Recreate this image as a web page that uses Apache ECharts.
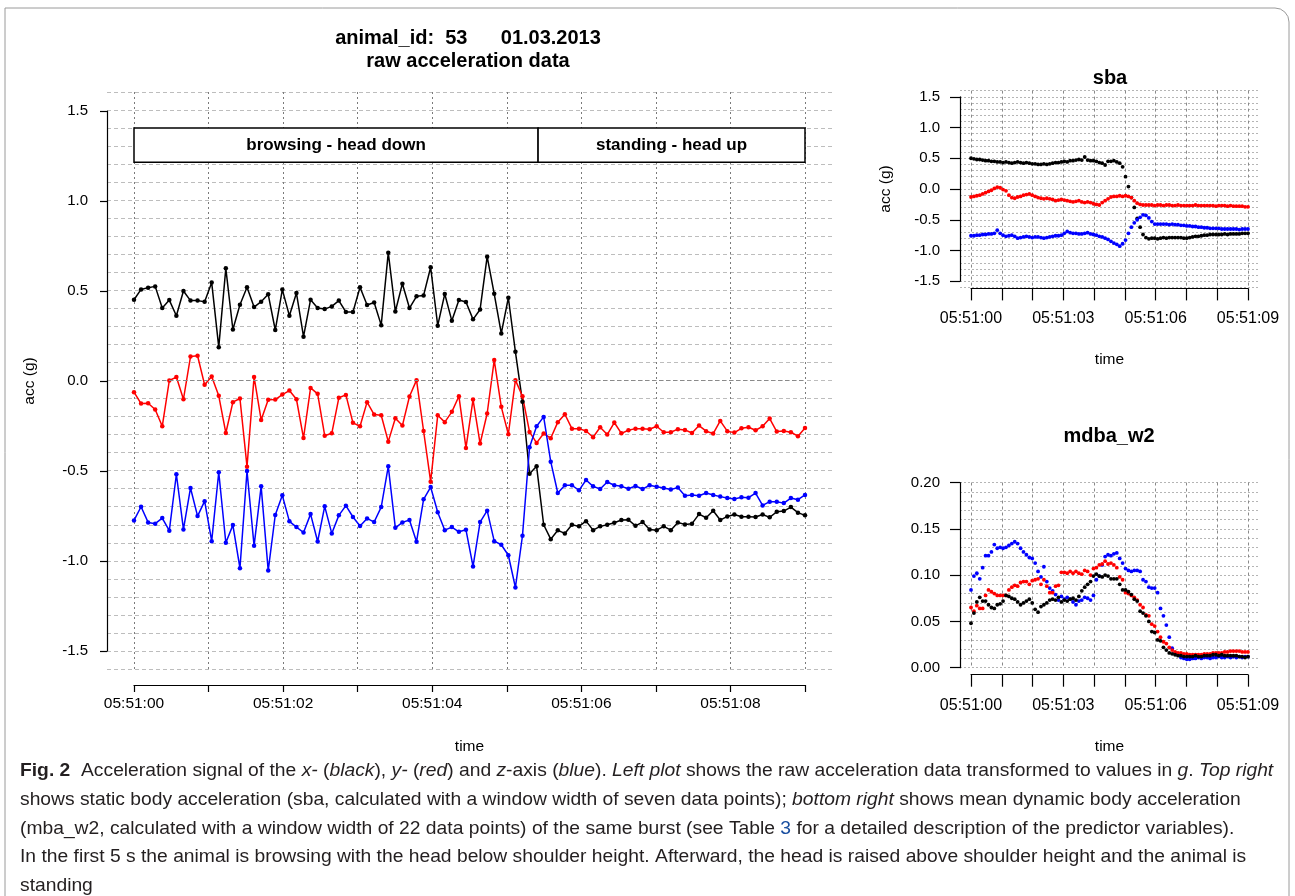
<!DOCTYPE html>
<html>
<head>
<meta charset="utf-8">
<script src="https://cdn.jsdelivr.net/npm/echarts@6/dist/echarts.min.js"></script>
<style>
html,body{margin:0;padding:0;background:#fff}
#main{width:1295px;height:896px}
</style>
</head>
<body>
<div id="main"></div>
<script>
// raw acceleration (g), one value per sample, 96 samples over 9 s
var rawX = [0.448,0.505,0.515,0.522,0.402,0.446,0.359,0.496,0.443,0.443,
  0.437,0.543,0.185,0.622,0.283,0.420,0.517,0.407,0.437,0.478,
  0.280,0.504,0.359,0.485,0.243,0.448,0.402,0.396,0.411,0.443,
  0.380,0.380,0.517,0.419,0.433,0.307,0.709,0.383,0.537,0.402,
  0.467,0.472,0.628,0.304,0.480,0.331,0.446,0.435,0.339,0.394,
  0.687,0.481,0.261,0.459,0.159,-0.118,-0.517,-0.476,-0.800,-0.880,
  -0.831,-0.848,-0.800,-0.809,-0.780,-0.830,-0.809,-0.800,-0.789,-0.774,
  -0.772,-0.806,-0.785,-0.826,-0.830,-0.809,-0.830,-0.787,-0.798,-0.794,
  -0.741,-0.761,-0.722,-0.774,-0.754,-0.743,-0.756,-0.756,-0.757,-0.743,
  -0.759,-0.728,-0.724,-0.702,-0.733,-0.748];
var rawY = [-0.065,-0.128,-0.126,-0.161,-0.254,0.000,0.019,-0.104,0.133,0.137,
  -0.024,0.022,-0.085,-0.291,-0.120,-0.100,-0.478,0.020,-0.219,-0.107,
  -0.106,-0.078,-0.056,-0.104,-0.319,-0.041,-0.074,-0.306,-0.293,-0.096,
  -0.080,-0.235,-0.254,-0.120,-0.189,-0.193,-0.339,-0.209,-0.250,-0.089,
  0.002,-0.280,-0.561,-0.193,-0.231,-0.174,-0.087,-0.374,-0.106,-0.350,
  -0.183,0.113,-0.146,-0.298,0.002,-0.087,-0.285,-0.346,-0.294,-0.320,
  -0.231,-0.187,-0.267,-0.267,-0.280,-0.315,-0.259,-0.300,-0.233,-0.293,
  -0.276,-0.267,-0.267,-0.270,-0.254,-0.287,-0.287,-0.270,-0.274,-0.291,
  -0.250,-0.281,-0.294,-0.224,-0.281,-0.289,-0.265,-0.259,-0.276,-0.254,
  -0.211,-0.283,-0.280,-0.287,-0.309,-0.263];
var rawZ = [-0.776,-0.700,-0.787,-0.794,-0.763,-0.833,-0.520,-0.826,-0.596,-0.752,
  -0.669,-0.891,-0.509,-0.900,-0.802,-1.041,-0.502,-0.917,-0.587,-1.054,
  -0.746,-0.637,-0.781,-0.813,-0.843,-0.741,-0.893,-0.698,-0.848,-0.748,
  -0.694,-0.757,-0.807,-0.765,-0.785,-0.702,-0.476,-0.817,-0.787,-0.774,
  -0.894,-0.659,-0.591,-0.731,-0.830,-0.813,-0.839,-0.828,-1.031,-0.785,
  -0.722,-0.891,-0.911,-0.969,-1.148,-0.861,-0.370,-0.254,-0.202,-0.450,
  -0.624,-0.581,-0.581,-0.609,-0.552,-0.587,-0.602,-0.563,-0.581,-0.587,
  -0.600,-0.585,-0.602,-0.581,-0.589,-0.596,-0.604,-0.594,-0.639,-0.635,
  -0.639,-0.624,-0.635,-0.644,-0.652,-0.657,-0.648,-0.650,-0.624,-0.693,
  -0.672,-0.672,-0.680,-0.652,-0.661,-0.635];

// static body acceleration
var sbaX = [0.50,0.49,0.48,0.48,0.47,0.46,0.46,0.45,0.45,0.44,
  0.44,0.43,0.44,0.43,0.42,0.43,0.44,0.43,0.42,0.43,
  0.42,0.41,0.41,0.40,0.40,0.41,0.40,0.41,0.42,0.43,
  0.43,0.44,0.45,0.44,0.46,0.46,0.47,0.48,0.47,0.52,
  0.47,0.46,0.46,0.45,0.43,0.42,0.39,0.45,0.45,0.46,
  0.44,0.42,0.36,0.20,0.04,-0.14,-0.30,-0.48,-0.62,-0.74,
  -0.79,-0.81,-0.80,-0.80,-0.81,-0.80,-0.79,-0.80,-0.79,-0.79,
  -0.79,-0.79,-0.79,-0.80,-0.80,-0.79,-0.78,-0.77,-0.77,-0.76,
  -0.75,-0.75,-0.74,-0.74,-0.74,-0.74,-0.74,-0.73,-0.74,-0.73,
  -0.73,-0.73,-0.73,-0.72,-0.72,-0.72];
var sbaY = [-0.13,-0.12,-0.11,-0.10,-0.08,-0.06,-0.04,-0.02,0.01,0.03,
  0.02,-0.01,-0.03,-0.10,-0.14,-0.15,-0.13,-0.12,-0.10,-0.09,
  -0.08,-0.10,-0.12,-0.14,-0.15,-0.16,-0.15,-0.16,-0.17,-0.19,
  -0.18,-0.17,-0.18,-0.19,-0.20,-0.21,-0.20,-0.19,-0.21,-0.22,
  -0.21,-0.22,-0.24,-0.25,-0.26,-0.22,-0.19,-0.16,-0.13,-0.12,
  -0.12,-0.11,-0.12,-0.11,-0.12,-0.14,-0.19,-0.23,-0.25,-0.26,
  -0.26,-0.26,-0.26,-0.27,-0.26,-0.26,-0.27,-0.26,-0.26,-0.27,
  -0.27,-0.26,-0.27,-0.27,-0.27,-0.27,-0.27,-0.26,-0.27,-0.27,
  -0.27,-0.27,-0.27,-0.27,-0.28,-0.27,-0.27,-0.27,-0.28,-0.27,
  -0.28,-0.28,-0.28,-0.28,-0.29,-0.29];
var sbaZ = [-0.76,-0.76,-0.75,-0.75,-0.74,-0.74,-0.73,-0.73,-0.72,-0.67,
  -0.72,-0.75,-0.77,-0.76,-0.75,-0.77,-0.80,-0.79,-0.78,-0.77,
  -0.78,-0.79,-0.78,-0.78,-0.79,-0.80,-0.79,-0.78,-0.77,-0.76,
  -0.76,-0.75,-0.72,-0.69,-0.71,-0.72,-0.72,-0.73,-0.73,-0.72,
  -0.71,-0.73,-0.74,-0.75,-0.77,-0.78,-0.80,-0.82,-0.85,-0.88,
  -0.90,-0.93,-0.89,-0.83,-0.72,-0.62,-0.55,-0.50,-0.46,-0.42,
  -0.43,-0.47,-0.53,-0.57,-0.57,-0.57,-0.57,-0.57,-0.58,-0.57,
  -0.58,-0.58,-0.59,-0.59,-0.60,-0.60,-0.61,-0.61,-0.62,-0.62,
  -0.63,-0.63,-0.64,-0.64,-0.64,-0.64,-0.65,-0.65,-0.65,-0.65,
  -0.65,-0.65,-0.66,-0.65,-0.65,-0.65];

// mean dynamic body acceleration, window 22
var mdbaX = [0.048,0.059,0.071,0.076,0.072,0.072,0.068,0.065,0.064,0.068,
  0.069,0.072,0.078,0.077,0.075,0.074,0.071,0.068,0.070,0.072,
  0.074,0.070,0.063,0.060,0.066,0.068,0.070,0.073,0.074,0.073,
  0.076,0.071,0.073,0.072,0.074,0.075,0.073,0.077,0.083,0.087,
  0.090,0.093,0.099,0.101,0.099,0.098,0.100,0.099,0.096,0.096,
  0.096,0.090,0.084,0.084,0.082,0.079,0.074,0.072,0.061,0.059,
  0.056,0.050,0.039,0.038,0.030,0.029,0.022,0.019,0.016,0.015,
  0.014,0.013,0.013,0.012,0.012,0.012,0.012,0.013,0.012,0.012,
  0.013,0.013,0.013,0.014,0.014,0.013,0.014,0.013,0.013,0.013,
  0.013,0.013,0.012,0.012,0.011,0.012];
var mdbaY = [0.065,0.061,0.067,0.064,0.064,0.078,0.084,0.082,0.080,0.078,
  0.078,0.078,0.078,0.084,0.087,0.089,0.088,0.092,0.093,0.093,
  0.090,0.094,0.095,0.096,0.090,0.095,0.088,0.081,0.081,0.088,
  0.089,0.103,0.103,0.102,0.104,0.102,0.104,0.102,0.101,0.105,
  0.104,0.100,0.107,0.108,0.111,0.112,0.115,0.112,0.113,0.111,
  0.108,0.098,0.095,0.081,0.080,0.078,0.076,0.073,0.068,0.065,
  0.057,0.056,0.047,0.045,0.039,0.033,0.028,0.026,0.022,0.019,
  0.017,0.016,0.016,0.015,0.015,0.014,0.014,0.014,0.014,0.014,
  0.015,0.015,0.015,0.016,0.016,0.016,0.016,0.017,0.017,0.018,
  0.018,0.018,0.018,0.017,0.017,0.017];
var mdbaZ = [0.084,0.099,0.102,0.096,0.108,0.121,0.121,0.125,0.133,0.129,
  0.130,0.129,0.130,0.132,0.134,0.136,0.134,0.129,0.125,0.122,
  0.119,0.118,0.113,0.104,0.098,0.109,0.093,0.086,0.083,0.079,
  0.073,0.077,0.074,0.076,0.074,0.071,0.068,0.072,0.073,0.076,
  0.075,0.073,0.078,0.095,0.099,0.111,0.120,0.122,0.121,0.123,
  0.124,0.118,0.113,0.107,0.105,0.104,0.105,0.105,0.104,0.095,
  0.093,0.087,0.086,0.086,0.081,0.064,0.056,0.046,0.033,0.021,
  0.016,0.014,0.011,0.010,0.009,0.009,0.010,0.010,0.011,0.010,
  0.011,0.011,0.010,0.011,0.011,0.012,0.011,0.011,0.012,0.011,
  0.012,0.011,0.012,0.011,0.012,0.012];

// behaviour phases (seconds) shown in the box above the raw data
var phaseNames = ['browsing - head down', 'standing - head up'];
var phaseStart = [0, 5.42];
var phaseEnd = [5.42, 9];
var boxLow = 1.21, boxHigh = 1.40;

var burstSeconds = 9;
var timePrefix = '05:51:0';

var t = [];
for (var i = 0; i < rawX.length; i++) {
  t.push(i * burstSeconds / (rawX.length - 1));
}
function pairs(vals) {
  var out = [];
  for (var k = 0; k < vals.length; k++) out.push([t[k], vals[k]]);
  return out;
}

var FONT = 'Liberation Sans';
var fineH = { show: true, lineStyle: { color: '#bdbdbd', type: [4, 3], width: 1 } };
var dotV = { show: true, lineStyle: { color: '#7a7a7a', type: [2, 3], width: 1 } };
var fineHr = { show: true, lineStyle: { color: '#b5b5b5', type: [2, 2], width: 1 } };
var dotVr = { show: true, lineStyle: { color: '#8a8a8a', type: [3, 3], width: 1 } };
var axisBlack = { show: true, onZero: false, lineStyle: { color: '#000', width: 1.2 } };

function hiddenX(gi) { return { type: 'value', gridIndex: gi, min: 0, max: 1, show: false }; }

var chart = echarts.init(document.getElementById('main'), null, { renderer: 'canvas' });

var option = {
  animation: false,
  backgroundColor: '#fff',
  textStyle: { fontFamily: FONT },
  grid: [
    { left: 107, top: 92, width: 725, height: 577 },      // 0 left fine lines
    { left: 134, top: 92, width: 671, height: 577 },      // 1 left data
    { left: 107, top: 111, width: 725, height: 540 },     // 2 left y axis
    { left: 960, top: 90.6, width: 299, height: 196.8 },  // 3 sba fine lines
    { left: 971, top: 90.6, width: 277, height: 196.8 },  // 4 sba data
    { left: 960, top: 96.75, width: 299, height: 184.5 }, // 5 sba y axis
    { left: 960, top: 482.5, width: 299, height: 185.2 }, // 6 mdba lines + y axis
    { left: 971, top: 482.5, width: 277, height: 185.2 }  // 7 mdba data
  ],
  xAxis: [
    hiddenX(0),
    {
      type: 'value', gridIndex: 1, min: 0, max: burstSeconds, interval: 1,
      offset: 16,
      axisLine: axisBlack,
      axisTick: { show: true, length: 7, lineStyle: { color: '#000', width: 1.2 } },
      axisLabel: { margin: 11, fontSize: 15.5, color: '#000', fontFamily: FONT,
        formatter: function (v) { return v % 2 === 0 ? timePrefix + v : ''; } },
      splitLine: dotV,
      name: 'time', nameLocation: 'middle', nameGap: 54,
      nameTextStyle: { fontSize: 15.5, color: '#000', fontFamily: FONT }
    },
    hiddenX(2),
    hiddenX(3),
    {
      type: 'value', gridIndex: 4, min: 0, max: burstSeconds, interval: 1,
      offset: 1,
      axisLine: axisBlack,
      axisTick: { show: true, length: 12, lineStyle: { color: '#000', width: 1.2 } },
      axisLabel: { margin: 22, fontSize: 16, color: '#000', fontFamily: FONT,
        formatter: function (v) { return v % 3 === 0 ? timePrefix + v : ''; } },
      splitLine: dotVr,
      name: 'time', nameLocation: 'middle', nameGap: 63,
      nameTextStyle: { fontSize: 15.5, color: '#000', fontFamily: FONT }
    },
    hiddenX(5),
    hiddenX(6),
    {
      type: 'value', gridIndex: 7, min: 0, max: burstSeconds, interval: 1,
      offset: 7,
      axisLine: axisBlack,
      axisTick: { show: true, length: 12, lineStyle: { color: '#000', width: 1.2 } },
      axisLabel: { margin: 23, fontSize: 16, color: '#000', fontFamily: FONT,
        formatter: function (v) { return v % 3 === 0 ? timePrefix + v : ''; } },
      splitLine: dotVr,
      name: 'time', nameLocation: 'middle', nameGap: 64,
      nameTextStyle: { fontSize: 15.5, color: '#000', fontFamily: FONT }
    }
  ],
  yAxis: [
    { type: 'value', gridIndex: 0, min: -1.6, max: 1.6, interval: 0.1,
      axisLine: { show: false }, axisTick: { show: false }, axisLabel: { show: false },
      splitLine: fineH },
    { type: 'value', gridIndex: 1, min: -1.6, max: 1.6, show: false },
    { type: 'value', gridIndex: 2, min: -1.5, max: 1.5, interval: 0.5,
      axisLine: axisBlack,
      axisTick: { show: true, length: 7, lineStyle: { color: '#000', width: 1.2 } },
      axisLabel: { margin: 19, fontSize: 15, color: '#000', fontFamily: FONT,
        formatter: function (v) { return v.toFixed(1); } },
      splitLine: { show: false },
      name: 'acc (g)', nameLocation: 'middle', nameGap: 69, nameRotate: 90,
      nameTextStyle: { fontSize: 15.5, color: '#000', fontFamily: FONT } },
    { type: 'value', gridIndex: 3, min: -1.6, max: 1.6, interval: 0.1,
      axisLine: { show: false }, axisTick: { show: false }, axisLabel: { show: false },
      splitLine: fineHr },
    { type: 'value', gridIndex: 4, min: -1.6, max: 1.6, show: false },
    { type: 'value', gridIndex: 5, min: -1.5, max: 1.5, interval: 0.5,
      axisLine: axisBlack,
      axisTick: { show: true, length: 10, lineStyle: { color: '#000', width: 1.2 } },
      axisLabel: { margin: 20, fontSize: 15, color: '#000', fontFamily: FONT,
        formatter: function (v) { return v.toFixed(1); } },
      splitLine: { show: false },
      name: 'acc (g)', nameLocation: 'middle', nameGap: 66, nameRotate: 90,
      nameTextStyle: { fontSize: 15.5, color: '#000', fontFamily: FONT } },
    { type: 'value', gridIndex: 6, min: 0, max: 0.2, interval: 0.05,
      axisLine: axisBlack,
      axisTick: { show: true, length: 10, lineStyle: { color: '#000', width: 1.2 } },
      axisLabel: { margin: 20, fontSize: 15, color: '#000', fontFamily: FONT,
        formatter: function (v) { return v.toFixed(2); } },
      minorTick: { show: false, splitNumber: 5 },
      splitLine: fineHr,
      minorSplitLine: fineHr },
    { type: 'value', gridIndex: 7, min: 0, max: 0.2, show: false }
  ],
  series: [
    {
      type: 'line', name: 'x', xAxisIndex: 1, yAxisIndex: 1, data: pairs(rawX),
      symbol: 'circle', symbolSize: 4.5, showSymbol: true,
      lineStyle: { color: '#000', width: 1.5 }, itemStyle: { color: '#000' },
      markArea: {
        silent: true,
        itemStyle: { color: '#fff', borderColor: '#000', borderWidth: 1.5 },
        label: { show: true, position: 'inside', fontWeight: 'bold', fontSize: 17,
          color: '#000', fontFamily: FONT },
        data: phaseNames.map(function (nm, k) {
          return [{ name: nm, xAxis: phaseStart[k], yAxis: boxHigh },
                  { xAxis: phaseEnd[k], yAxis: boxLow }];
        })
      },
      markLine: {
        silent: true, symbol: 'none', label: { show: false },
        lineStyle: { color: '#8a8a8a', type: [4, 3], width: 1 },
        data: [{ yAxis: 0 }]
      }
    },
    {
      type: 'line', name: 'y', xAxisIndex: 1, yAxisIndex: 1, data: pairs(rawY),
      symbol: 'circle', symbolSize: 4.5,
      lineStyle: { color: '#ff0000', width: 1.5 }, itemStyle: { color: '#ff0000' }
    },
    {
      type: 'line', name: 'z', xAxisIndex: 1, yAxisIndex: 1, data: pairs(rawZ),
      symbol: 'circle', symbolSize: 4.5,
      lineStyle: { color: '#0000ff', width: 1.5 }, itemStyle: { color: '#0000ff' }
    },
    { type: 'scatter', xAxisIndex: 4, yAxisIndex: 4, data: pairs(sbaX), symbolSize: 3.8, itemStyle: { color: '#000', opacity: 1 } },
    { type: 'scatter', xAxisIndex: 4, yAxisIndex: 4, data: pairs(sbaY), symbolSize: 3.8, itemStyle: { color: '#ff0000', opacity: 1 } },
    { type: 'scatter', xAxisIndex: 4, yAxisIndex: 4, data: pairs(sbaZ), symbolSize: 3.8, itemStyle: { color: '#0000ff', opacity: 1 } },
    { type: 'scatter', xAxisIndex: 7, yAxisIndex: 7, data: pairs(mdbaZ), symbolSize: 3.8, itemStyle: { color: '#0000ff', opacity: 1 } },
    { type: 'scatter', xAxisIndex: 7, yAxisIndex: 7, data: pairs(mdbaY), symbolSize: 3.8, itemStyle: { color: '#ff0000', opacity: 1 } },
    { type: 'scatter', xAxisIndex: 7, yAxisIndex: 7, data: pairs(mdbaX), symbolSize: 3.8, itemStyle: { color: '#000', opacity: 1 } }
  ]
};

// caption lines, font size fitted to the first line's width
var capLines = [
  '{b|Fig. 2}  Acceleration signal of the {i|x-} ({i|black}), {i|y-} ({i|red}) and {i|z}-axis ({i|blue}). {i|Left plot} shows the raw acceleration data transformed to values in {i|g}. {i|Top right}',
  'shows static body acceleration (sba, calculated with a window width of seven data points); {i|bottom right} shows mean dynamic body acceleration',
  '(mba_w2, calculated with a window width of 22 data points) of the same burst (see Table {l|3} for a detailed description of the predictor variables).',
  'In the first 5 s the animal is browsing with the head below shoulder height. Afterward, the head is raised above shoulder height and the animal is',
  'standing'
];
var capFamily = '"Liberation Sans Narrow", "Liberation Sans", sans-serif';
var cv = document.createElement('canvas').getContext('2d');
cv.font = '20px ' + capFamily;
var plain = capLines[0].replace(/\{[a-z]\|([^}]*)\}/g, '$1');
var capSize = Math.min(22, 20 * 1252 / cv.measureText(plain).width);
var capY = [771, 800, 829, 857, 886];

var graphics = [
  { type: 'rect', shape: { x: 5, y: 8, width: 1284, height: 1000, r: [0, 14, 0, 0] },
    style: { fill: 'none', stroke: '#9a9a9a', lineWidth: 1 }, silent: true },
  { type: 'text', x: 468, y: 38, style: { text: 'animal_id:  53      01.03.2013', fontSize: 20, fontWeight: 'bold',
      fontFamily: FONT, fill: '#000', align: 'center', verticalAlign: 'middle', textAlign: 'center', textVerticalAlign: 'middle' } },
  { type: 'text', x: 468, y: 61, style: { text: 'raw acceleration data', fontSize: 20, fontWeight: 'bold',
      fontFamily: FONT, fill: '#000', align: 'center', verticalAlign: 'middle', textAlign: 'center', textVerticalAlign: 'middle' } },
  { type: 'text', x: 1110, y: 78, style: { text: 'sba', fontSize: 20, fontWeight: 'bold',
      fontFamily: FONT, fill: '#000', align: 'center', verticalAlign: 'middle', textAlign: 'center', textVerticalAlign: 'middle' } },
  { type: 'text', x: 1109, y: 436, style: { text: 'mdba_w2', fontSize: 20, fontWeight: 'bold',
      fontFamily: FONT, fill: '#000', align: 'center', verticalAlign: 'middle', textAlign: 'center', textVerticalAlign: 'middle' } }
];
capLines.forEach(function (ln, k) {
  graphics.push({
    type: 'text', x: 20, y: capY[k],
    style: {
      text: ln, fontSize: capSize, fontFamily: capFamily, fill: '#231f20',
      align: 'left', verticalAlign: 'middle', textAlign: 'left', textVerticalAlign: 'middle',
      rich: {
        b: { fontWeight: 'bold', fontSize: capSize, fontFamily: capFamily, fill: '#231f20' },
        i: { fontStyle: 'italic', fontSize: capSize, fontFamily: capFamily, fill: '#231f20' },
        l: { fontSize: capSize, fontFamily: capFamily, fill: '#1a4fa0' }
      }
    }
  });
});
option.graphic = { elements: graphics };

chart.setOption(option);
</script>
</body>
</html>
